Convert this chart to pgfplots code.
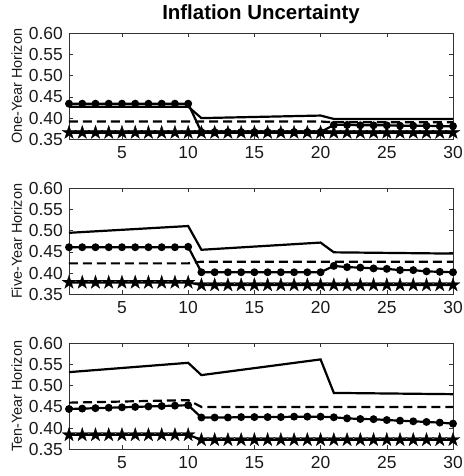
\documentclass[border=0pt]{standalone}
\usepackage{fontspec}
\setmainfont{Liberation Sans}
\usepackage{pgfplots}
\pgfplotsset{compat=1.18}

\pgfdeclareplotmark{pentagram}{%
  \pgfpathmoveto{\pgfpointpolar{90}{\pgfplotmarksize}}%
  \pgfpathlineto{\pgfpointpolar{126}{0.382\pgfplotmarksize}}%
  \pgfpathlineto{\pgfpointpolar{162}{\pgfplotmarksize}}%
  \pgfpathlineto{\pgfpointpolar{198}{0.382\pgfplotmarksize}}%
  \pgfpathlineto{\pgfpointpolar{234}{\pgfplotmarksize}}%
  \pgfpathlineto{\pgfpointpolar{270}{0.382\pgfplotmarksize}}%
  \pgfpathlineto{\pgfpointpolar{306}{\pgfplotmarksize}}%
  \pgfpathlineto{\pgfpointpolar{342}{0.382\pgfplotmarksize}}%
  \pgfpathlineto{\pgfpointpolar{18}{\pgfplotmarksize}}%
  \pgfpathlineto{\pgfpointpolar{54}{0.382\pgfplotmarksize}}%
  \pgfpathclose
  \pgfusepathqfillstroke
}

\pgfplotsset{
  panel/.style={
    width=384bp, height=106bp, scale only axis,
    xmin=1, xmax=30, ymin=0.35, ymax=0.60,
    xtick={5,10,15,20,25,30},
    ytick={0.35,0.40,0.45,0.50,0.55,0.60},
    yticklabel style={/pgf/number format/fixed,/pgf/number format/fixed zerofill,/pgf/number format/precision=2, inner sep=0pt, xshift=-6bp},
    xticklabel style={inner sep=0pt, yshift=-7bp},
    /pgf/number format/assume math mode=true,
    tick align=inside, major tick length=4bp,
    axis line style={black!80, line width=0.5bp},
    tick style={black!80, line width=0.5bp},
    tick label style={font=\fontsize{17.5}{20}\selectfont, text=black!90},
    ylabel style={at={(axis description cs:-0.1224,0.5)}, anchor=base, font=\fontsize{14.5}{16}\selectfont, text=black!90},
    clip=false,
  },
  sline/.style={black, line width=2.2bp, no markers},
  dline/.style={black, line width=2.2bp, mark=*, mark size=2.8bp, mark options={solid}},
  dashline/.style={black, line width=2.2bp, no markers, dash pattern=on 9bp off 5bp},
  stline/.style={black, line width=2.2bp, mark=pentagram, mark size=7.2bp, mark options={solid, fill=black, line width=0.3bp}},
}

\begin{document}
\begin{tikzpicture}
% ---------- Panel 1 ----------
\begin{axis}[panel, at={(0,0)}, anchor=south west,
  ylabel={One-Year Horizon},
  title={Inflation Uncertainty},
  title style={at={(axis description cs:0.5,1)}, anchor=base, yshift=8bp, font=\bfseries\fontsize{20.5}{24}\selectfont, text=black},
]
\addplot[sline] coordinates {(1,0.427)(10,0.427)(11,0.400)(20,0.406)(21,0.398)(30,0.398)};
\addplot[dline] coordinates {
(1,0.434)(2,0.434)(3,0.434)(4,0.434)(5,0.434)(6,0.434)(7,0.434)(8,0.434)(9,0.434)(10,0.434)
(11,0.367)(12,0.367)(13,0.367)(14,0.367)(15,0.367)(16,0.367)(17,0.367)(18,0.367)(19,0.367)(20,0.367)
(21,0.384)(22,0.384)(23,0.383)(24,0.383)(25,0.383)(26,0.382)(27,0.382)(28,0.382)(29,0.381)(30,0.381)};
\addplot[dashline] coordinates {(1,0.392)(20,0.392)(21,0.390)(30,0.390)};
\addplot[stline] coordinates {
(1,0.366)(2,0.366)(3,0.366)(4,0.366)(5,0.366)(6,0.366)(7,0.366)(8,0.366)(9,0.366)(10,0.366)
(11,0.366)(12,0.366)(13,0.366)(14,0.366)(15,0.366)(16,0.366)(17,0.366)(18,0.366)(19,0.366)(20,0.366)
(21,0.366)(22,0.366)(23,0.366)(24,0.366)(25,0.366)(26,0.366)(27,0.366)(28,0.366)(29,0.366)(30,0.366)};
\end{axis}
% ---------- Panel 2 ----------
\begin{axis}[panel, at={(0,-155bp)}, anchor=south west,
  ylabel={Five-Year Horizon},
]
\addplot[sline] coordinates {(1,0.495)(10,0.511)(11,0.455)(20,0.472)(21,0.449)(30,0.446)};
\addplot[dline] coordinates {
(1,0.461)(2,0.461)(3,0.461)(4,0.461)(5,0.461)(6,0.461)(7,0.461)(8,0.461)(9,0.461)(10,0.462)
(11,0.402)(12,0.402)(13,0.402)(14,0.402)(15,0.402)(16,0.402)(17,0.402)(18,0.402)(19,0.402)(20,0.402)
(21,0.417)(22,0.414)(23,0.413)(24,0.411)(25,0.410)(26,0.407)(27,0.407)(28,0.404)(29,0.403)(30,0.402)};
\addplot[dashline] coordinates {(1,0.423)(10,0.423)(11,0.427)(30,0.427)};
\addplot[stline] coordinates {
(1,0.378)(2,0.378)(3,0.378)(4,0.378)(5,0.378)(6,0.378)(7,0.378)(8,0.378)(9,0.378)(10,0.378)
(11,0.372)(12,0.372)(13,0.372)(14,0.372)(15,0.372)(16,0.372)(17,0.372)(18,0.372)(19,0.372)(20,0.372)
(21,0.372)(22,0.372)(23,0.372)(24,0.372)(25,0.372)(26,0.372)(27,0.372)(28,0.372)(29,0.372)(30,0.372)};
\end{axis}
% ---------- Panel 3 ----------
\begin{axis}[panel, at={(0,-310bp)}, anchor=south west,
  ylabel={Ten-Year Horizon},
]
\addplot[sline] coordinates {(1,0.532)(10,0.554)(11,0.525)(20,0.562)(21,0.483)(30,0.480)};
\addplot[dline] coordinates {
(1,0.445)(2,0.446)(3,0.447)(4,0.448)(5,0.449)(6,0.450)(7,0.451)(8,0.452)(9,0.453)(10,0.454)
(11,0.425)(12,0.425)(13,0.425)(14,0.426)(15,0.426)(16,0.426)(17,0.426)(18,0.427)(19,0.427)(20,0.427)
(21,0.4255)(22,0.423)(23,0.4215)(24,0.421)(25,0.419)(26,0.4175)(27,0.416)(28,0.4145)(29,0.413)(30,0.4105)};
\addplot[dashline] coordinates {(1,0.460)(10,0.466)(11,0.450)(30,0.450)};
\addplot[stline] coordinates {
(1,0.384)(2,0.384)(3,0.384)(4,0.384)(5,0.384)(6,0.384)(7,0.384)(8,0.384)(9,0.384)(10,0.384)
(11,0.3725)(12,0.3725)(13,0.3725)(14,0.3725)(15,0.3725)(16,0.3725)(17,0.3725)(18,0.3725)(19,0.3725)(20,0.3725)
(21,0.3725)(22,0.3725)(23,0.3725)(24,0.3725)(25,0.3725)(26,0.3725)(27,0.3725)(28,0.3725)(29,0.3725)(30,0.3725)};
\end{axis}
\pgfresetboundingbox
\path[use as bounding box] (-69bp,-336.7bp) rectangle (395bp,139.3bp);
\end{tikzpicture}
\end{document}
